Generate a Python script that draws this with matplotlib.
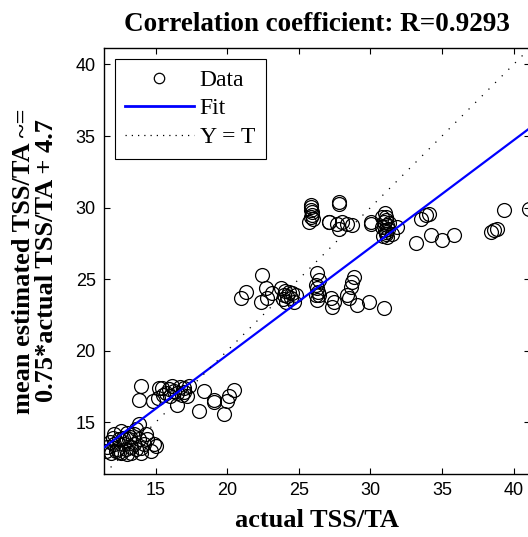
import matplotlib
matplotlib.use("Agg")
import matplotlib.pyplot as plt
from matplotlib.lines import Line2D

# actual TSS/TA (targets) and mean estimated TSS/TA (outputs)
actual = [
    # low group
    11.5, 11.6, 11.9, 12.1, 12.1, 12.4, 12.55, 12.6, 12.8, 13.0, 13.1, 13.25,
    13.5, 13.45, 13.8, 13.95, 14.2, 14.65, 14.85, 15.0, 13.8, 12.3, 12.9, 13.3,
    13.6, 12.0, 12.7, 13.2, 14.0, 14.4, 11.8, 12.4, 13.0, 14.3, 13.6, 12.2,
    # second group
    13.95, 13.83, 15.23, 15.12, 15.70, 16.16, 16.51, 16.98, 17.21, 16.51,
    17.33, 18.37, 18.02, 19.07, 19.1, 19.77, 20.12, 20.47, 20.0, 15.5, 15.9,
    16.3, 16.7, 16.0, 16.8, 15.4, 17.0, 14.77,
    # middle group
    20.94, 21.28, 22.45, 22.68, 22.33, 22.8, 23.15, 23.73, 23.96, 24.31, 24.43,
    24.66, 24.08, 24.78, 26.29, 26.4, 26.29, 26.17, 26.29, 27.22, 27.34, 27.45,
    28.39, 28.5, 28.85, 28.73, 28.62, 29.09, 29.9, 30.95, 24.0, 24.5, 23.9,
    24.2, 26.3, 26.2, 26.4,
    # upper group
    25.82, 25.94, 25.82, 25.7, 27.8, 27.1, 27.68, 28.03, 28.39, 28.73, 27.8,
    30.01, 30.83, 30.95, 30.83, 31.06, 31.17, 31.52, 31.06, 31.17, 31.06, 31.87,
    30.01, 27.8, 25.82, 27.1, 31.0, 31.1, 31.2, 30.9, 31.3, 31.0, 25.9, 26.0,
    25.85,
    # high actual values
    33.5, 33.85, 34.08, 33.16, 34.2, 35.02, 35.83, 38.39, 38.62, 38.85, 39.32,
    41.07,
]
estimated = [
    13.0, 13.3, 12.85, 13.5, 14.15, 13.8, 12.85, 14.4, 13.5, 14.25, 13.8, 12.85,
    14.2, 13.5, 13.8, 12.85, 13.5, 13.0, 13.5, 13.35, 14.85, 13.1, 13.1, 13.3,
    13.1, 13.9, 13.9, 14.0, 13.2, 13.8, 13.6, 12.95, 12.75, 14.2, 14.5, 13.0,
    17.51, 16.58, 17.39, 16.69, 17.04, 17.51, 17.04, 17.39, 16.81, 16.23,
    17.51, 17.16, 15.81, 16.58, 16.4, 15.54, 16.81, 17.28, 16.46, 16.9, 17.3,
    17.2, 17.45, 16.8, 16.9, 17.4, 17.1, 16.46,
    23.66, 24.12, 25.28, 24.35, 23.43, 23.66, 24.0, 24.35, 23.89, 24.12, 23.66,
    23.43, 23.43, 23.89, 25.4, 24.94, 24.35, 23.89, 23.54, 23.66, 23.08, 23.43,
    23.89, 23.66, 25.17, 24.82, 24.47, 23.2, 23.43, 22.96, 24.2, 24.0, 23.6,
    23.8, 24.1, 24.6, 23.9,
    30.04, 29.69, 29.35, 29.0, 30.39, 29.0, 28.88, 29.0, 28.88, 28.77, 28.53,
    29.0, 29.35, 29.0, 28.65, 28.3, 27.95, 28.18, 29.35, 28.77, 28.18, 28.65,
    28.88, 30.27, 29.81, 29.0, 29.6, 29.1, 28.5, 28.0, 28.9, 28.4, 29.5, 29.2,
    30.2,
    29.23, 29.46, 29.58, 27.49, 28.07, 27.72, 28.07, 28.3, 28.42, 28.53, 29.81,
    29.92,
]

fit_slope = 0.75
fit_offset = 4.7
r_value = 0.9293
ticks = [15, 20, 25, 30, 35, 40]

lo = 11.38
hi = 41.15

serif = "Liberation Serif"
sans = "Liberation Sans"

fig = plt.figure(figsize=(5.28, 5.37), dpi=100)
ax = fig.add_axes([104 / 528, 63 / 537, 426 / 528, 426 / 537])

line_x = [lo, hi]
ax.plot(line_x, [fit_slope * v + fit_offset for v in line_x],
        color=(0, 0, 1), linewidth=1.6, zorder=3)
ax.plot(line_x, line_x, color="black", linewidth=0.9,
        linestyle=(0, (1, 6.5)), zorder=3)
ax.plot(actual, estimated, linestyle="none", marker="o", markersize=10,
        markerfacecolor="none", markeredgecolor="black",
        markeredgewidth=0.9, zorder=2)

ax.set_xlim(lo, hi)
ax.set_ylim(lo, hi)
ax.set_xticks(ticks)
ax.set_yticks(ticks)
ax.tick_params(direction="in", length=4.5, width=0.8, top=True, right=True,
               labelsize=13, pad=6)
for lab in ax.get_xticklabels() + ax.get_yticklabels():
    lab.set_family(sans)
for sp in ax.spines.values():
    sp.set_linewidth(1.0)

ax.set_title("Correlation coefficient: R=%.4f" % r_value, family=serif,
             fontweight="bold", fontsize=19.5, pad=12)
ax.set_xlabel("actual TSS/TA", family=serif, fontweight="bold", fontsize=19)
ax.set_ylabel("mean estimated TSS/TA ~=\n0.75*actual TSS/TA + 4.7",
              family=serif, fontweight="bold", fontsize=19, linespacing=1.0)
ax.yaxis.set_label_coords(-0.108, 0.5)
ax.xaxis.set_label_coords(0.5, -0.082)

handles = [
    Line2D([], [], linestyle="none", marker="o", markersize=7.5,
           markerfacecolor="none", markeredgecolor="black",
           markeredgewidth=0.9),
    Line2D([], [], color=(0, 0, 1), linewidth=2.0),
    Line2D([], [], color="black", linewidth=0.9, linestyle=(0, (1, 4))),
]
leg = ax.legend(handles, ["Data", "Fit", "Y = T"], loc="upper left",
                prop={"family": serif, "size": 17}, handlelength=2.9,
                handletextpad=0.25, labelspacing=0.3, borderpad=0.45,
                borderaxespad=0.45, fancybox=False, framealpha=1)
leg.get_frame().set_edgecolor("black")
leg.get_frame().set_linewidth(0.8)

fig.savefig("out.png", dpi=100)
